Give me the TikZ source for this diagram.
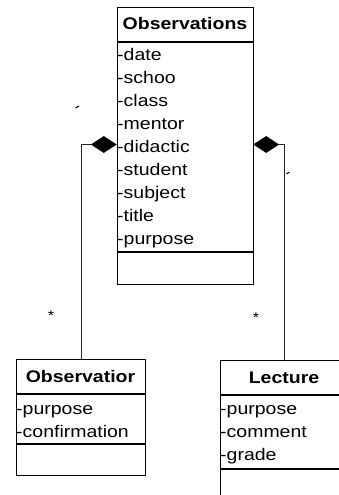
\documentclass[tikz,border=0pt]{standalone}
\usepackage{fontspec}
\setmainfont{Liberation Sans}[FakeStretch=1.16]
\usetikzlibrary{shapes.geometric}
\begin{document}
\begin{tikzpicture}[x=1pt,y=-1pt,
  box/.style={draw, line width=1.3pt, inner sep=0pt},
  sep/.style={line width=1.3pt},
  ctitle/.style={anchor=base, inner sep=0pt, font=\fontsize{16.8}{20}\selectfont\bfseries},
  attr/.style={anchor=base west, inner sep=0pt, font=\fontsize{16.8}{20}\selectfont},
  conn/.style={line width=0.9pt, draw=black!85},
  agg/.style={diamond, fill=black, inner sep=0pt, minimum width=26pt, minimum height=17pt},
  mult/.style={font=\fontsize{14}{14}\selectfont, inner sep=0pt},
  tick/.style={line width=1.1pt}]
\clip (0,0) rectangle (339,495);
\useasboundingbox (0,0) rectangle (339,495);

% Observations class
\node[box, anchor=north west, minimum width=136pt, minimum height=277pt] (obs) at (117,7) {};
\draw[sep] (117,42) -- (253,42);
\draw[sep] (117,252) -- (253,252);
\node[ctitle] (obsT) at (185,30) {Observations};
\node[attr] (a1) at (117,61) {-date};
\node[attr] (a2) at (117,83.9) {-schoo};
\node[attr] (a3) at (117,106.8) {-class};
\node[attr] (a4) at (117,129.7) {-mentor};
\node[attr] (a5) at (117,152.6) {-didactic};
\node[attr] (a6) at (117,175.5) {-student};
\node[attr] (a7) at (117,198.4) {-subject};
\node[attr] (a8) at (117,221.3) {-title};
\node[attr] (a9) at (117,244.2) {-purpose};

% Observation class
\node[box, anchor=north west, minimum width=129pt, minimum height=116pt] (obsv) at (16,359) {};
\draw[sep] (16,394) -- (145,394);
\draw[sep] (16,444) -- (145,444);
\node[ctitle] (obsvT) at (80.5,382.5) {Observatior};
\node[attr] (b1) at (16,414) {-purpose};
\node[attr] (b2) at (16,437) {-confirmation};

% Lecture class
\node[box, anchor=north west, minimum width=128pt, minimum height=160pt] (lec) at (220,360) {};
\draw[sep] (220,395) -- (348,395);
\draw[sep] (220,469) -- (348,469);
\node[ctitle] (lecT) at (284,383.5) {Lecture};
\node[attr] (c1) at (220,414) {-purpose};
\node[attr] (c2) at (220,437.5) {-comment};
\node[attr] (c3) at (220,460) {-grade};

% aggregation diamonds and connectors
\node[agg, anchor=east] (d1) at (117,144.5) {};
\node[agg, anchor=west] (d2) at (253,144.5) {};
\draw[conn] (d1.west) -| (obsv.north);
\draw[conn] (d2.east) -| (lec.north);

% multiplicities
\node[mult] (m1) at (51,316) {*};
\node[mult] (m2) at (256,318) {*};

% small marks
\draw[tick] (75.5,108) -- (79,106);
\draw[tick] (286.5,174) -- (289.5,172);
\end{tikzpicture}
\end{document}
